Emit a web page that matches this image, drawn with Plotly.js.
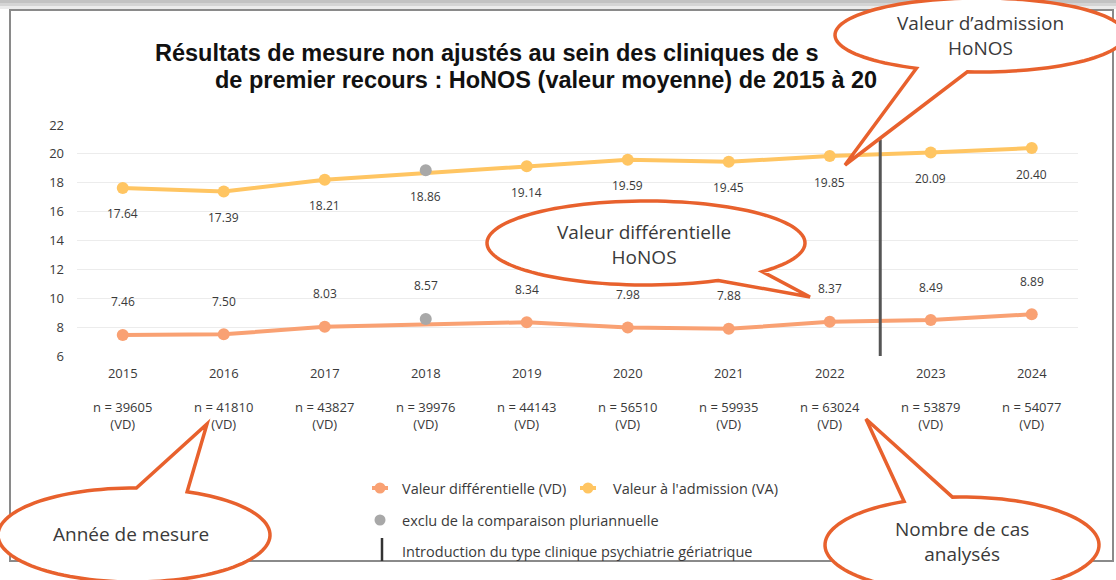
<!DOCTYPE html>
<html><head><meta charset="utf-8">
<script src="https://cdn.plot.ly/plotly-3.0.1.min.js"></script>
<style>html,body{margin:0;padding:0;background:#fff}#chart{width:1116px;height:580px}</style>
</head><body><div id="chart"></div>
<script>
// ---- data ----
const years = [2015, 2016, 2017, 2018, 2019, 2020, 2021, 2022, 2023, 2024];
const valeurDifferentielle = [7.46, 7.50, 8.03, 8.57, 8.34, 7.98, 7.88, 8.37, 8.49, 8.89];
const valeurAdmission = [17.64, 17.39, 18.21, 18.86, 19.14, 19.59, 19.45, 19.85, 20.09, 20.40];
const nombreCas = [39605, 41810, 43827, 39976, 44143, 56510, 59935, 63024, 53879, 54077];
const anneeExclue = 2018;
const introGeriatrie = 2022.5;
const yTicks = [6, 8, 10, 12, 14, 16, 18, 20, 22];
const titleLines = ["Résultats de mesure non ajustés au sein des cliniques de s",
                    "de premier recours : HoNOS (valeur moyenne) de 2015 à 20"];
const legendLabels = ["Valeur différentielle (VD)", "Valeur à l'admission (VA)",
                      "exclu de la comparaison pluriannuelle",
                      "Introduction du type clinique psychiatrie gériatrique"];
const bubbleTexts = ["Valeur d’admission<br>HoNOS", "Valeur différentielle<br>HoNOS",
                     "Année de mesure", "Nombre de cas<br>analysés"];

// ---- styles ----
const W = 1116, H = 580;
const M = {l: 77, r: 38, t: 125, b: 224};
const pw = W - M.l - M.r, ph = H - M.t - M.b;
const px = x => (x - M.l) / pw;
const py = y => (H - M.b - y) / ph;
const C_VD = '#F9A173', C_VA = '#FFC562', C_EX = '#A8A8A8', C_BUB = '#E8612D';
const FONT = 'Open Sans, Liberation Sans, sans-serif';
const TXT = '#3a3a3a';

const keep = (arr) => arr.map((v, i) => years[i] === anneeExclue ? null : v);
const exIdx = years.indexOf(anneeExclue);

const traces = [
  {x: years, y: keep(valeurDifferentielle), mode: 'lines+markers', connectgaps: true,
   line: {color: C_VD, width: 4}, marker: {color: C_VD, size: 12}, hoverinfo: 'skip'},
  {x: years, y: keep(valeurAdmission), mode: 'lines+markers', connectgaps: true,
   line: {color: C_VA, width: 4}, marker: {color: C_VA, size: 12}, hoverinfo: 'skip'},
  {x: [anneeExclue, anneeExclue], y: [valeurDifferentielle[exIdx], valeurAdmission[exIdx]],
   mode: 'markers', marker: {color: C_EX, size: 12}, hoverinfo: 'skip'}
];

const annotations = [];
years.forEach((yr, i) => {
  annotations.push({x: yr, y: valeurDifferentielle[i], text: valeurDifferentielle[i].toFixed(2),
    showarrow: false, yshift: 33, font: {family: FONT, size: 12, color: TXT}});
  annotations.push({x: yr, y: valeurAdmission[i], text: valeurAdmission[i].toFixed(2),
    showarrow: false, yshift: -26, font: {family: FONT, size: 12, color: TXT}});
});
// title lines
annotations.push({xref: 'paper', yref: 'paper', x: px(153), y: py(53), xanchor: 'left', yanchor: 'middle',
  text: '<b>' + titleLines[0] + '</b>', showarrow: false,
  font: {family: 'Liberation Sans, Arial, sans-serif', size: 23.5, color: '#111'}});
annotations.push({xref: 'paper', yref: 'paper', x: px(213), y: py(80), xanchor: 'left', yanchor: 'middle',
  text: '<b>' + titleLines[1] + '</b>', showarrow: false,
  font: {family: 'Liberation Sans, Arial, sans-serif', size: 23.5, color: '#111'}});
// legend texts
const legPos = [[400, 488], [611, 488], [400, 520], [400, 551]];
legendLabels.forEach((t, i) => annotations.push({xref: 'paper', yref: 'paper',
  x: px(legPos[i][0]), y: py(legPos[i][1]), xanchor: 'left', yanchor: 'middle', text: t,
  showarrow: false, font: {family: FONT, size: 14.5, color: TXT}}));
// bubble texts
const bubPos = [[980, 35], [644, 244], [131, 534], [962, 541]];
bubbleTexts.forEach((t, i) => annotations.push({xref: 'paper', yref: 'paper',
  x: px(bubPos[i][0]), y: py(bubPos[i][1]), xanchor: 'center', yanchor: 'middle', text: t,
  showarrow: false, font: {family: FONT, size: 19, color: '#3a3a3a'}}));

function rectPx(x0, y0, x1, y1, fill, line) {
  return {type: 'rect', xref: 'paper', yref: 'paper', x0: px(x0), x1: px(x1), y0: py(y0), y1: py(y1),
    fillcolor: fill, line: line || {width: 0}, layer: 'above'};
}
function bubble(cx, cy, rx, ry, a1, a2, tx, ty) {
  const r = Math.PI / 180, pts = [];
  pts.push([cx + rx * Math.cos(a2 * r), cy + ry * Math.sin(a2 * r)]);
  pts.push([tx, ty]);
  pts.push([cx + rx * Math.cos(a1 * r), cy + ry * Math.sin(a1 * r)]);
  for (let a = a1 - 3; a > a2 - 360; a -= 3) pts.push([cx + rx * Math.cos(a * r), cy + ry * Math.sin(a * r)]);
  const path = 'M' + pts.map(p => px(p[0]).toFixed(5) + ',' + py(p[1]).toFixed(5)).join('L') + 'Z';
  return {type: 'path', xref: 'paper', yref: 'paper', path: path, fillcolor: '#ffffff',
    line: {color: C_BUB, width: 3.5}, layer: 'above'};
}
function circlePx(cx, cy, rad, color) {
  return {type: 'circle', xref: 'paper', yref: 'paper', x0: px(cx - rad), x1: px(cx + rad),
    y0: py(cy + rad), y1: py(cy - rad), fillcolor: color, line: {width: 0}, layer: 'above'};
}
function linePx(x0, y0, x1, y1, color, w) {
  return {type: 'line', xref: 'paper', yref: 'paper', x0: px(x0), x1: px(x1), y0: py(y0), y1: py(y1),
    line: {color: color, width: w}, layer: 'above'};
}

const shapes = [
  rectPx(0, 0, W, 3, '#c2c2c2'),
  rectPx(0, 3, W, 6, '#d4d4d4'),
  rectPx(0, 6, W, 9, '#ebebeb'),
  {type: 'rect', xref: 'paper', yref: 'paper', x0: px(10), x1: px(1113), y0: py(10), y1: py(561),
   line: {color: '#8a8a8a', width: 2}, fillcolor: 'rgba(0,0,0,0)', layer: 'above'},
  {type: 'line', xref: 'x', yref: 'y', x0: introGeriatrie, x1: introGeriatrie, y0: 6, y1: 21,
   line: {color: '#555555', width: 3}, layer: 'above'},
  // legend symbols
  linePx(372, 488, 388, 488, C_VD, 4), circlePx(380, 488, 5.5, C_VD),
  linePx(580, 488, 596, 488, C_VA, 4), circlePx(588, 488, 5.5, C_VA),
  circlePx(380, 520, 5.5, C_EX),
  linePx(382, 538, 382, 561, '#333333', 2.5),
  // callout bubbles
  bubble(980, 35, 145, 37, 95, 116, 845, 165),
  bubble(646, 243, 159, 42, 43, 63, 810, 297),
  bubble(134, 535, 136, 47, -89, -67, 207, 424),
  bubble(962, 545, 137, 48, -115, -94, 866, 419)
];

const layout = {
  width: W, height: H, margin: M, showlegend: false,
  paper_bgcolor: '#ffffff', plot_bgcolor: '#ffffff',
  xaxis: {range: [2014.547, 2024.458], tickvals: years,
    ticktext: years.map((y, i) => y + '<br><br>n = ' + nombreCas[i] + '<br>(VD)'),
    showgrid: false, zeroline: false, showline: false, ticks: '', ticklabelstandoff: 8,
    tickfont: {family: FONT, size: 13, color: TXT}, fixedrange: true},
  yaxis: {range: [6, 22], tickvals: yTicks, gridcolor: '#ececec', gridwidth: 1, zeroline: false,
    showline: false, ticks: '', ticklabelstandoff: 12,
    tickfont: {family: FONT, size: 13, color: TXT}, fixedrange: true},
  annotations: annotations, shapes: shapes
};
Plotly.newPlot('chart', traces, layout, {staticPlot: true, displayModeBar: false});
</script></body></html>
